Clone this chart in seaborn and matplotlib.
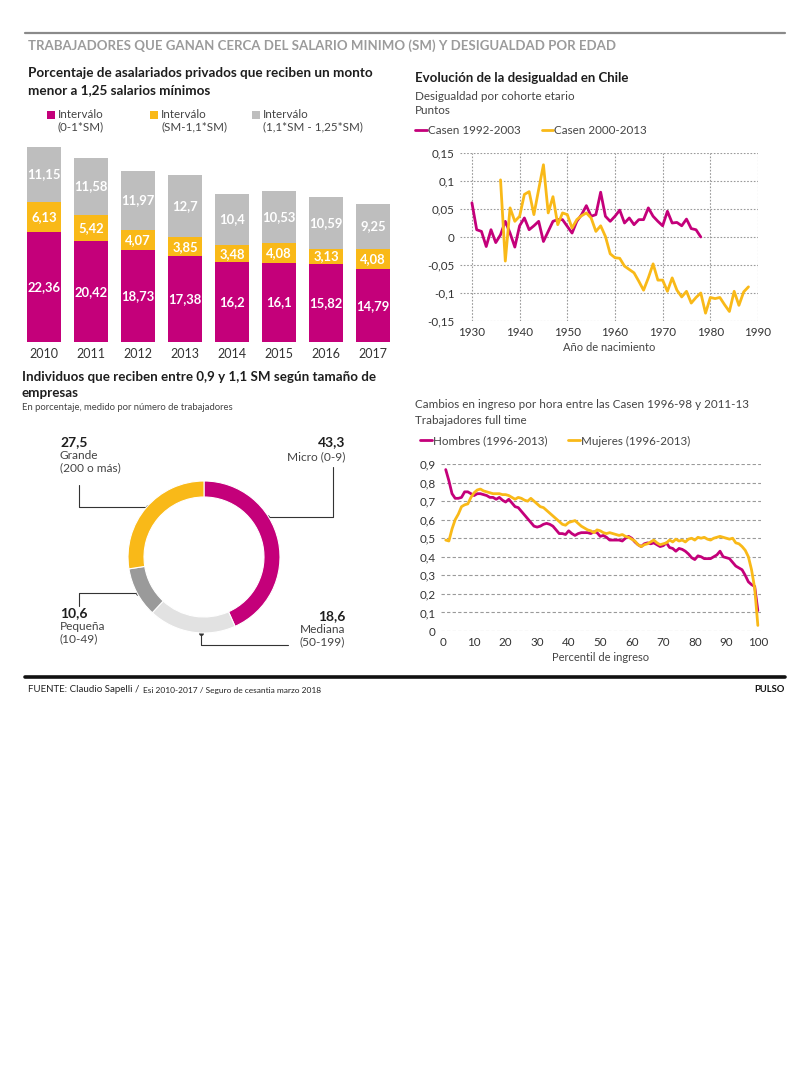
import numpy as np
import pandas as pd
import matplotlib
matplotlib.use("Agg")
import matplotlib.pyplot as plt
import seaborn as sns
from matplotlib.patches import Rectangle

# --- data ---
years = ["2010", "2011", "2012", "2013", "2014", "2015", "2016", "2017"]
sm_0_1 = [22.36, 20.42, 18.73, 17.38, 16.2, 16.1, 15.82, 14.79]
sm_1_11 = [6.13, 5.42, 4.07, 3.85, 3.48, 4.08, 3.13, 4.08]
sm_11_125 = [11.15, 11.58, 11.97, 12.7, 10.4, 10.53, 10.59, 9.25]

empresa_labels = ["Micro (0-9)", "Mediana\n(50-199)", "Pequeña\n(10-49)", "Grande\n(200 o más)"]
empresa_pct = [43.3, 18.6, 10.6, 27.5]

cohort_a = list(range(1930, 1979))
casen_92_03 = [0.061, 0.013, 0.010, -0.017, 0.013, -0.010, 0.004, 0.028, 0.007, -0.018,
               0.020, 0.034, 0.013, 0.020, 0.028, -0.008, 0.010, 0.028, 0.031, 0.031,
               0.019, 0.007, 0.028, 0.040, 0.056, 0.037, 0.040, 0.080, 0.037, 0.028,
               0.037, 0.048, 0.025, 0.034, 0.022, 0.031, 0.031, 0.052, 0.037, 0.028,
               0.020, 0.046, 0.025, 0.026, 0.020, 0.032, 0.015, 0.013, 0.000]
cohort_b = list(range(1936, 1989))
casen_00_13 = [0.102, -0.043, 0.052, 0.028, 0.037, 0.076, 0.081, 0.040, 0.085, 0.129,
               0.043, 0.072, 0.022, 0.043, 0.040, 0.016, 0.031, 0.038, 0.043, 0.034,
               0.010, 0.020, 0.001, -0.030, -0.037, -0.038, -0.052, -0.058, -0.064, -0.079,
               -0.095, -0.073, -0.048, -0.077, -0.077, -0.097, -0.073, -0.095, -0.107, -0.097,
               -0.118, -0.108, -0.100, -0.136, -0.108, -0.110, -0.108, -0.121, -0.133, -0.097,
               -0.122, -0.098, -0.089]

percentil = list(range(1, 101))
hombres = [0.87, 0.81, 0.74, 0.715, 0.715, 0.72, 0.75, 0.75, 0.74, 0.73,
           0.74, 0.74, 0.735, 0.73, 0.72, 0.72, 0.71, 0.72, 0.705, 0.695,
           0.71, 0.69, 0.67, 0.665, 0.645, 0.625, 0.605, 0.585, 0.565, 0.56,
           0.565, 0.575, 0.58, 0.575, 0.565, 0.545, 0.525, 0.525, 0.52, 0.54,
           0.525, 0.515, 0.525, 0.53, 0.53, 0.53, 0.525, 0.535, 0.53, 0.51,
           0.515, 0.505, 0.49, 0.49, 0.49, 0.49, 0.485, 0.5, 0.51, 0.5,
           0.48, 0.465, 0.455, 0.47, 0.475, 0.47, 0.475, 0.465, 0.455, 0.46,
           0.475, 0.45, 0.445, 0.43, 0.445, 0.44, 0.43, 0.415, 0.395, 0.385,
           0.405, 0.4, 0.39, 0.39, 0.39, 0.4, 0.41, 0.43, 0.4, 0.395,
           0.39, 0.37, 0.35, 0.34, 0.33, 0.3, 0.265, 0.25, 0.24, 0.11]
mujeres = [0.49, 0.485, 0.55, 0.6, 0.63, 0.67, 0.68, 0.685, 0.72, 0.745,
           0.76, 0.765, 0.755, 0.75, 0.745, 0.74, 0.74, 0.74, 0.735, 0.735,
           0.73, 0.72, 0.71, 0.72, 0.715, 0.705, 0.7, 0.715, 0.7, 0.685,
           0.67, 0.665, 0.65, 0.635, 0.62, 0.605, 0.59, 0.575, 0.57, 0.585,
           0.59, 0.595, 0.58, 0.565, 0.555, 0.545, 0.54, 0.53, 0.545, 0.54,
           0.53, 0.525, 0.53, 0.525, 0.52, 0.515, 0.52, 0.51, 0.505, 0.495,
           0.485, 0.465, 0.455, 0.465, 0.47, 0.48, 0.49, 0.475, 0.465, 0.47,
           0.475, 0.49, 0.48, 0.495, 0.485, 0.49, 0.48, 0.495, 0.5, 0.49,
           0.505, 0.5, 0.505, 0.495, 0.49, 0.5, 0.505, 0.51, 0.505, 0.5,
           0.495, 0.5, 0.475, 0.47, 0.455, 0.435, 0.4, 0.33, 0.23, 0.03]

MAG = "#C4007A"
YEL = "#F9B918"
GRY = "#BEBEBE"
LGRY = "#E2E2E2"
DGRY = "#9A9A9A"
TXT = "#1E1E1E"
SUB = "#444444"

sns.set_theme(style="white")
plt.rcParams["font.family"] = ["Lato", "DejaVu Sans"]

W, H = 800, 1080
fig = plt.figure(figsize=(8, 10.8), dpi=100)


def box(l, t, r, b):
    return [l / W, 1 - b / H, (r - l) / W, (b - t) / H]


def comma(v):
    return f"{v:g}".replace(".", ",")


# overlay in pixel coordinates for texts and rules
ov = fig.add_axes([0, 0, 1, 1])
ov.set_xlim(0, W)
ov.set_ylim(H, 0)
ov.axis("off")

ov.plot([25, 785], [32.5, 32.5], color="#8a8a8a", lw=1.6)
ov.text(28, 46, "TRABAJADORES QUE GANAN CERCA DEL SALARIO MINIMO (SM) Y DESIGUALDAD POR EDAD",
        fontsize=9.5, fontweight="bold", color="#9b9b9b", va="center")
ov.plot([25, 785], [677, 677], color="#111111", lw=2.6)
ov.text(28, 690, "FUENTE: Claudio Sapelli / ", fontsize=7, color="#222222", va="center")
ov.text(143, 690, "Esi 2010-2017 / Seguro de cesantia marzo 2018", fontsize=6,
        color="#222222", va="center")
ov.text(785, 690, "PULSO", fontsize=6.8, fontweight="bold", color="#111111", va="center", ha="right")

# ---------- stacked bars ----------
ov.text(28, 73, "Porcentaje de asalariados privados que reciben un monto", fontsize=9.7,
        fontweight="bold", color=TXT, va="center")
ov.text(28, 90, "menor a 1,25 salarios mínimos", fontsize=9.7, fontweight="bold", color=TXT, va="center")
leg = [(47, MAG, "Interválo\n(0-1*SM)"), (150, YEL, "Interválo\n(SM-1,1*SM)"),
       (252, GRY, "Interválo\n(1,1*SM - 1,25*SM)")]
for x0, c, lab in leg:
    ov.add_patch(Rectangle((x0, 111), 8, 8, color=c, lw=0))
    ov.text(x0 + 11, 108.5, lab, fontsize=8.4, color=SUB, va="top", linespacing=1.15)

bars = pd.DataFrame({"year": years, "a": sm_0_1, "b": sm_1_11, "c": sm_11_125})
bars["ab"] = bars["a"] + bars["b"]
bars["abc"] = bars["ab"] + bars["c"]

axb = fig.add_axes(box(20.5, 145, 396.5, 342))
axb.set_facecolor("none")
sns.barplot(data=bars, x="year", y="abc", color=GRY, width=0.72, saturation=1, linewidth=0, ax=axb)
sns.barplot(data=bars, x="year", y="ab", color=YEL, width=0.72, saturation=1, linewidth=0, ax=axb)
sns.barplot(data=bars, x="year", y="a", color=MAG, width=0.72, saturation=1, linewidth=0, ax=axb)
for i, r in bars.iterrows():
    for lo, v in [(0, r["a"]), (r["a"], r["b"]), (r["ab"], r["c"])]:
        axb.text(i, lo + v / 2, comma(v), ha="center", va="center", color="white",
                 fontsize=9.4, fontweight="bold")
axb.set_ylim(0, 40)
axb.set_xlim(-0.5, 7.5)
axb.set_yticks([])
axb.set_xlabel("")
axb.set_ylabel("")
axb.tick_params(axis="x", length=0, pad=4, labelsize=9, labelcolor="#333333")
sns.despine(ax=axb, left=True, bottom=True)

# ---------- donut ----------
ov.text(22, 377, "Individuos que reciben entre 0,9 y 1,1 SM según tamaño de", fontsize=9.6,
        fontweight="bold", color=TXT, va="center")
ov.text(22, 393, "empresas", fontsize=9.6, fontweight="bold", color=TXT, va="center")
ov.text(22, 407, "En porcentaje, medido por número de trabajadores", fontsize=6.8, color=SUB, va="center")

cx, cy, R = 204, 557, 80
axd = fig.add_axes(box(cx - R, cy - R, cx + R, cy + R))
axd.set_facecolor("none")
axd.pie(empresa_pct, colors=[MAG, LGRY, DGRY, YEL], startangle=90, counterclock=False,
        radius=76 / R, wedgeprops=dict(width=16 / R, edgecolor="white", linewidth=0.8))
axd.set_xlim(-1, 1)
axd.set_ylim(-1, 1)
axd.set_aspect("equal")

lc = "#333333"
# Micro
ov.plot([267, 333, 333], [517, 517, 467], color=lc, lw=0.8)
ov.plot([267], [517], "o", color=lc, ms=2.5)
ov.text(345, 442, comma(empresa_pct[0]), fontsize=10, fontweight="bold", color=TXT, ha="right", va="center")
ov.text(345, 457, empresa_labels[0], fontsize=8.6, color=SUB, ha="right", va="center")
# Grande
ov.plot([148, 79, 79], [507, 507, 485], color=lc, lw=0.8)
ov.plot([148], [507], "o", color=lc, ms=2.5)
ov.text(60, 442, comma(empresa_pct[3]), fontsize=10, fontweight="bold", color=TXT, ha="left", va="center")
ov.text(60, 450, empresa_labels[3], fontsize=8.6, color=SUB, ha="left", va="top", linespacing=1.1)
# Pequeña
ov.plot([138, 79, 79], [593, 593, 606], color=lc, lw=0.8)
ov.plot([138], [593], "o", color=lc, ms=2.5)
ov.text(60, 613, comma(empresa_pct[2]), fontsize=10, fontweight="bold", color=TXT, ha="left", va="center")
ov.text(60, 621, empresa_labels[2], fontsize=8.6, color=SUB, ha="left", va="top", linespacing=1.1)
# Mediana
ov.plot([201, 201, 288], [633, 645, 645], color=lc, lw=0.8)
ov.plot([201], [633], "o", color=lc, ms=2.5)
ov.text(345, 616, comma(empresa_pct[1]), fontsize=10, fontweight="bold", color=TXT, ha="right", va="center")
ov.text(345, 624, empresa_labels[1], fontsize=8.6, color=SUB, ha="right", va="top", linespacing=1.1,
        multialignment="right")

# ---------- desigualdad por cohorte ----------
ov.text(415, 78, "Evolución de la desigualdad en Chile", fontsize=9.5, fontweight="bold", color=TXT, va="center")
ov.text(415, 97, "Desigualdad por cohorte etario", fontsize=8.4, color=SUB, va="center")
ov.text(415, 111, "Puntos", fontsize=8.4, color=SUB, va="center")

ax1 = fig.add_axes(box(460, 153, 758, 321))
ax1.set_facecolor("none")
sns.lineplot(x=cohort_a, y=casen_92_03, color=MAG, lw=2, label="Casen 1992-2003", ax=ax1)
sns.lineplot(x=cohort_b, y=casen_00_13, color=YEL, lw=2, label="Casen 2000-2013", ax=ax1)
ax1.set_xlim(1927.5, 1990)
ax1.set_ylim(-0.15, 0.15)
yt1 = [0.15, 0.1, 0.05, 0, -0.05, -0.1, -0.15]
ax1.set_yticks(yt1)
ax1.set_yticklabels([comma(v) for v in yt1])
ax1.set_xticks(range(1930, 1991, 10))
ax1.grid(True, linestyle=(0, (1.5, 1.5)), color="#9a9a9a", lw=0.8)
ax1.set_axisbelow(True)
ax1.tick_params(length=0, labelsize=8.4, labelcolor="#333333", pad=4)
ax1.set_xlabel("Año de nacimiento", fontsize=8, color=SUB, labelpad=3)
sns.despine(ax=ax1, left=True, bottom=True)
ax1.legend(loc="center left", bbox_to_anchor=(415 / W, 1 - 131 / H), bbox_transform=fig.transFigure,
           ncol=2, frameon=False, fontsize=8.4, handlelength=1.0, handletextpad=0.1,
           columnspacing=1.8, borderaxespad=0, borderpad=0, labelcolor=SUB)

# ---------- ingreso por percentil ----------
ov.text(415, 405, "Cambios en ingreso por hora entre las Casen 1996-98 y 2011-13", fontsize=8.4,
        color=SUB, va="center")
ov.text(415, 420, "Trabajadores full time", fontsize=8.4, color=SUB, va="center")

ax2 = fig.add_axes(box(441, 464, 761, 631))
ax2.set_facecolor("none")
sns.lineplot(x=percentil, y=hombres, color=MAG, lw=2, label="Hombres (1996-2013)", ax=ax2)
sns.lineplot(x=percentil, y=mujeres, color=YEL, lw=2, label="Mujeres (1996-2013)", ax=ax2)
ax2.set_xlim(-0.5, 101)
ax2.set_ylim(0, 0.9)
yt2 = [0, 0.1, 0.2, 0.3, 0.4, 0.5, 0.6, 0.7, 0.8, 0.9]
ax2.set_yticks(yt2)
ax2.set_yticklabels([comma(v) for v in yt2])
ax2.set_xticks(range(0, 101, 10))
ax2.grid(True, axis="y", linestyle=(0, (3, 2)), color="#9a9a9a", lw=0.8)
ax2.set_axisbelow(True)
ax2.tick_params(length=0, labelsize=8.4, labelcolor="#333333", pad=4)
ax2.set_xlabel("Percentil de ingreso", fontsize=8, color=SUB, labelpad=3)
sns.despine(ax=ax2, left=True, bottom=True)
ax2.legend(loc="center left", bbox_to_anchor=(420 / W, 1 - 441 / H), bbox_transform=fig.transFigure,
           ncol=2, frameon=False, fontsize=8.4, handlelength=1.0, handletextpad=0.1,
           columnspacing=1.8, borderaxespad=0, borderpad=0, labelcolor=SUB)

fig.savefig("out.png", dpi=100, facecolor="white")
